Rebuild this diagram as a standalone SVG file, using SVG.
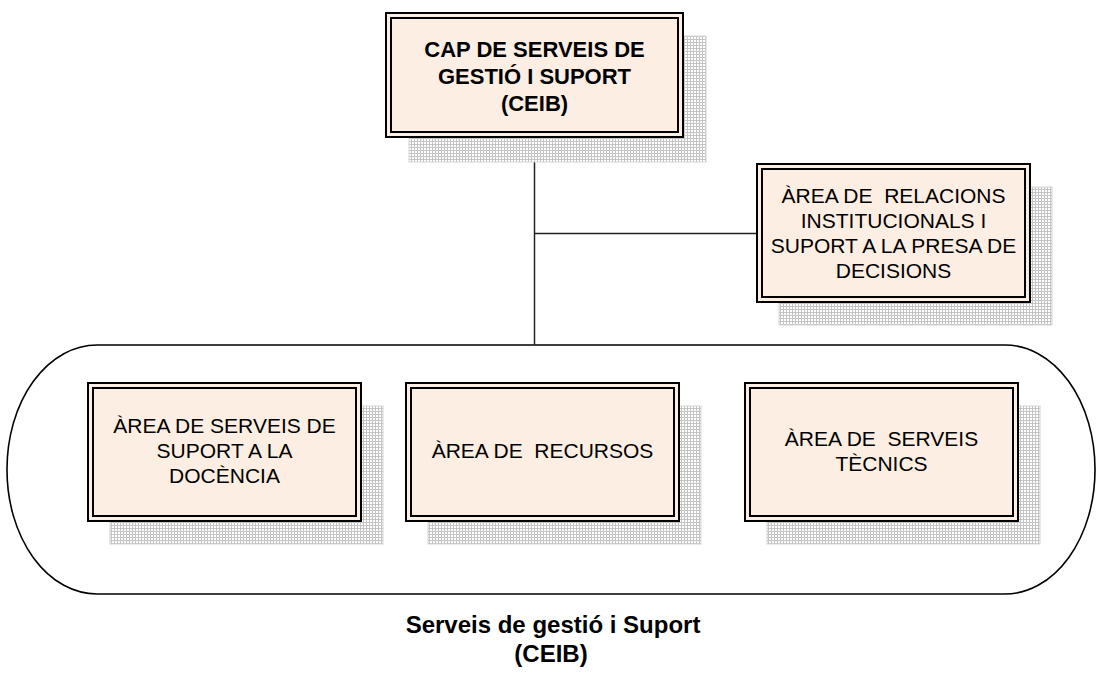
<svg xmlns="http://www.w3.org/2000/svg" width="1097" height="673" viewBox="0 0 1097 673">
<style>
.sh{fill:url(#dots);stroke:#d4d4d4;stroke-width:1}
.bo{fill:#fdeee3;stroke:#000;stroke-width:2}
.bi{fill:none;stroke:#000;stroke-width:2}
.t{font-family:"Liberation Sans",Arial,sans-serif;font-size:21px;fill:#000;text-anchor:middle;white-space:pre}
.tb{font-family:"Liberation Sans",Arial,sans-serif;font-size:22px;font-weight:bold;fill:#000;text-anchor:middle}
.cap{font-family:"Liberation Sans",Arial,sans-serif;font-size:24px;font-weight:bold;fill:#000;text-anchor:middle}
.ln{stroke:#222;stroke-width:1.5;fill:none}
</style>
<defs>
<pattern id="dots" width="3" height="3" patternUnits="userSpaceOnUse">
<rect width="3" height="3" fill="#c4c4c4"/>
<rect x="1" y="1" width="2" height="2" fill="#ffffff"/>
</pattern>
</defs>
<rect width="1097" height="673" fill="#ffffff"/>
<g id="group-ring">
<rect x="7" y="345" width="1088" height="249" rx="90" ry="124" fill="none" stroke="#000" stroke-width="1.6"/>
</g>
<g id="connectors">
<line class="ln" x1="534.5" y1="137" x2="534.5" y2="345"/>
<line class="ln" x1="534.5" y1="233.5" x2="757" y2="233.5" stroke="#444"/>
</g>
<g id="node-cap">
<rect class="sh" x="409" y="36" width="297" height="126"/>
<rect class="bo" x="386" y="13" width="297" height="124"/>
<rect class="bi" x="391" y="18" width="287" height="114"/>
<text class="tb" x="534.5" y="57">CAP DE SERVEIS DE</text>
<text class="tb" x="534.5" y="84">GESTIÓ I SUPORT</text>
<text class="tb" x="534.5" y="111">(CEIB)</text>
</g>
<g id="node-relacions">
<rect class="sh" x="779" y="187" width="273" height="138"/>
<rect class="bo" x="757" y="164" width="273" height="138"/>
<rect class="bi" x="762" y="169" width="263" height="128"/>
<text class="t" x="893.5" y="203">ÀREA DE  RELACIONS</text>
<text class="t" x="893.5" y="228">INSTITUCIONALS I</text>
<text class="t" x="893.5" y="253">SUPORT A LA PRESA DE</text>
<text class="t" x="893.5" y="278">DECISIONS</text>
</g>
<g id="node-docencia">
<rect class="sh" x="110" y="406" width="273" height="138"/>
<rect class="bo" x="88" y="383" width="273" height="138"/>
<rect class="bi" x="93" y="388" width="263" height="128"/>
<text class="t" x="224.5" y="433">ÀREA DE SERVEIS DE</text>
<text class="t" x="224.5" y="458">SUPORT A LA</text>
<text class="t" x="224.5" y="483">DOCÈNCIA</text>
</g>
<g id="node-recursos">
<rect class="sh" x="428" y="406" width="273" height="138"/>
<rect class="bo" x="406" y="383" width="273" height="138"/>
<rect class="bi" x="411" y="388" width="263" height="128"/>
<text class="t" x="542.5" y="458">ÀREA DE  RECURSOS</text>
</g>
<g id="node-tecnics">
<rect class="sh" x="767" y="406" width="273" height="138"/>
<rect class="bo" x="745" y="383" width="273" height="138"/>
<rect class="bi" x="750" y="388" width="263" height="128"/>
<text class="t" x="881.5" y="446">ÀREA DE  SERVEIS</text>
<text class="t" x="881.5" y="471">TÈCNICS</text>
</g>
<g id="caption">
<text class="cap" x="553" y="633">Serveis de gestió i Suport</text>
<text class="cap" x="551" y="662">(CEIB)</text>
</g>
</svg>
